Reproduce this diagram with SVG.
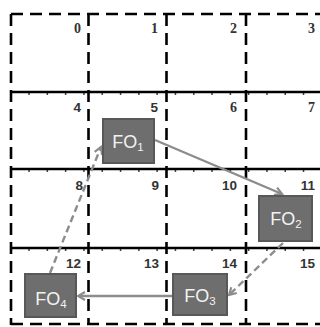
<svg xmlns="http://www.w3.org/2000/svg" width="320" height="327" viewBox="0 0 320 327">
<style>
.dash{stroke:#000;stroke-width:2.6;stroke-dasharray:12 7;fill:none}
.solid{stroke:#000;stroke-width:2.4;fill:none}
.tick{stroke:#000;stroke-width:1.6;stroke-dasharray:1.5 16.8;fill:none}
.ns{font-family:"Liberation Sans",Arial,sans-serif;font-weight:bold;font-size:13.5px;fill:#333;text-anchor:end}
.nf{font-family:"Liberation Serif","Times New Roman",serif;font-weight:bold;font-size:14px;fill:#333;text-anchor:end}
.box{fill:#6e6e6e;stroke:#585858;stroke-width:2}
.lbl{font-family:"Liberation Sans",Arial,sans-serif;font-size:18px;fill:#f2f2f2;text-anchor:middle}
.arr{stroke:#8c8c8c;stroke-width:2.4;fill:none;marker-end:url(#ah)}
.arrd{stroke:#8c8c8c;stroke-width:2.4;fill:none;stroke-dasharray:7 4;marker-end:url(#ah)}
</style>
<defs>
<marker id="ah" markerWidth="10" markerHeight="10" refX="8" refY="5" orient="auto" markerUnits="userSpaceOnUse">
<path d="M1,1 L8,5 L1,9" fill="none" stroke="#8c8c8c" stroke-width="2.2"/>
</marker>
</defs>
<rect width="320" height="327" fill="#fff"/>
<g id="grid">
<line class="solid" x1="10" y1="92" x2="320" y2="92"/>
<line class="solid" x1="10" y1="169" x2="320" y2="169"/>
<line class="solid" x1="10" y1="248" x2="320" y2="248"/>
<line class="tick" x1="10" y1="94" x2="320" y2="94"/>
<line class="tick" x1="10" y1="171" x2="320" y2="171"/>
<line class="tick" x1="10" y1="250" x2="320" y2="250"/>
<line class="dash" x1="11" y1="14" x2="320" y2="14"/>
<line class="dash" x1="11" y1="324" x2="320" y2="324"/>
<line class="dash" x1="11" y1="14" x2="11" y2="325"/>
<line class="dash" x1="88.5" y1="14" x2="88.5" y2="325"/>
<line class="dash" x1="166.5" y1="14" x2="166.5" y2="325"/>
<line class="dash" x1="246" y1="14" x2="246" y2="325"/>
</g>
<g id="cell-numbers">
<text class="nf" x="81" y="33">0</text>
<text class="nf" x="158" y="33">1</text>
<text class="nf" x="237" y="33">2</text>
<text class="nf" x="315" y="33">3</text>
<text class="ns" x="81" y="112">4</text>
<text class="ns" x="158" y="112">5</text>
<text class="nf" x="237" y="112">6</text>
<text class="nf" x="315" y="112">7</text>
<text class="ns" x="83" y="190">8</text>
<text class="ns" x="159" y="190">9</text>
<text class="ns" x="237" y="190">10</text>
<text class="ns" x="315" y="190">11</text>
<text class="ns" x="81" y="268">12</text>
<text class="ns" x="159" y="268">13</text>
<text class="ns" x="237" y="268">14</text>
<text class="ns" x="315" y="268">15</text>
</g>
<g id="connectors">
<line class="arr" x1="155" y1="140" x2="282" y2="194"/>
<line class="arrd" x1="283" y1="243" x2="229" y2="295"/>
<line class="arr" x1="172" y1="296" x2="78" y2="296"/>
<line class="arrd" x1="50" y1="273" x2="101" y2="147"/>
</g>
<g id="FO1">
<rect class="box" x="103" y="119" width="51" height="44"/>
<text class="lbl" x="128" y="148">FO<tspan font-size="11.5" dy="3">1</tspan></text>
</g>
<g id="FO2">
<rect class="box" x="259" y="196" width="53" height="45"/>
<text class="lbl" x="286" y="225">FO<tspan font-size="11.5" dy="3">2</tspan></text>
</g>
<g id="FO3">
<rect class="box" x="173" y="274" width="54" height="41"/>
<text class="lbl" x="200" y="302">FO<tspan font-size="11.5" dy="3">3</tspan></text>
</g>
<g id="FO4">
<rect class="box" x="25" y="274" width="51" height="43"/>
<text class="lbl" x="51" y="305">FO<tspan font-size="11.5" dy="3">4</tspan></text>
</g>
</svg>
